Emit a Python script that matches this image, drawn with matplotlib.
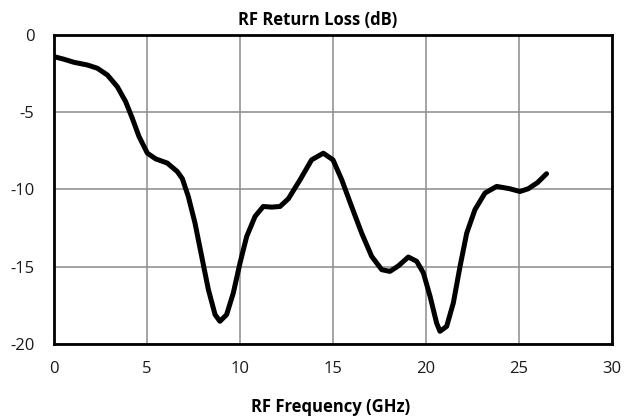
import matplotlib
matplotlib.use("Agg")
import matplotlib.pyplot as plt

# values
freq_ghz = [0, 0.54, 1.08, 1.79, 2.33, 2.87, 3.4, 3.85, 4.21, 4.57, 5.02,
            5.47, 6.09, 6.63, 6.9, 7.22, 7.58, 7.94, 8.3, 8.66, 8.92, 9.28,
            9.64, 10.0, 10.36, 10.81, 11.25, 11.7, 12.15, 12.6, 13.23, 13.85,
            14.48, 15.0, 15.47, 16.0, 16.54, 17.08, 17.62, 18.06, 18.51,
            19.05, 19.5, 19.86, 20.22, 20.57, 20.75, 21.11, 21.47, 21.83,
            22.19, 22.63, 23.17, 23.8, 24.5, 25.05, 25.5, 26.0, 26.48]
return_loss_db = [-1.40, -1.57, -1.77, -1.94, -2.15, -2.59, -3.34, -4.31,
                  -5.39, -6.57, -7.65, -8.02, -8.29, -8.84, -9.3, -10.45,
                  -12.17, -14.33, -16.48, -18.1, -18.53, -18.1, -16.7,
                  -14.76, -13.04, -11.74, -11.1, -11.14, -11.1, -10.6, -9.37,
                  -8.08, -7.65, -8.08, -9.37, -11.1, -12.82, -14.33, -15.19,
                  -15.3, -14.95, -14.37, -14.65, -15.4, -16.92, -18.64,
                  -19.18, -18.86, -17.34, -14.98, -12.82, -11.31, -10.23,
                  -9.8, -9.95, -10.13, -9.95, -9.55, -8.98]
x_ticks = [0, 5, 10, 15, 20, 25, 30]
y_ticks = [-20, -15, -10, -5, 0]

plt.rcParams['font.family'] = ['Open Sans', 'DejaVu Sans']
plt.rcParams['axes.unicode_minus'] = False

fig = plt.figure(figsize=(6.26, 4.2), dpi=100)
ax = fig.add_axes([54/626, 1 - 344/420, (612-54)/626, (344-35)/420])

ax.plot(freq_ghz, return_loss_db, color='black', lw=3.6,
        solid_joinstyle='round', solid_capstyle='round')

ax.set_xlim(0, 30)
ax.set_ylim(-20, 0)
ax.set_xticks(x_ticks)
ax.set_yticks(y_ticks)
ax.grid(True, color='#8c8c8c', lw=1.1)
ax.set_axisbelow(True)
for s in ax.spines.values():
    s.set_linewidth(2)
    s.set_color('black')
ax.tick_params(length=0, labelsize=12, colors='#1a1a1a')
ax.tick_params(axis='x', pad=12)
ax.tick_params(axis='y', pad=14)

fig.text(318/626, 1 - 20/420, 'RF Return Loss (dB)', ha='center', va='center',
         fontsize=12, fontweight='bold')
fig.text(331/626, 1 - 407/420, 'RF Frequency (GHz)', ha='center', va='center',
         fontsize=12, fontweight='bold')

fig.savefig('out.png', dpi=100)
